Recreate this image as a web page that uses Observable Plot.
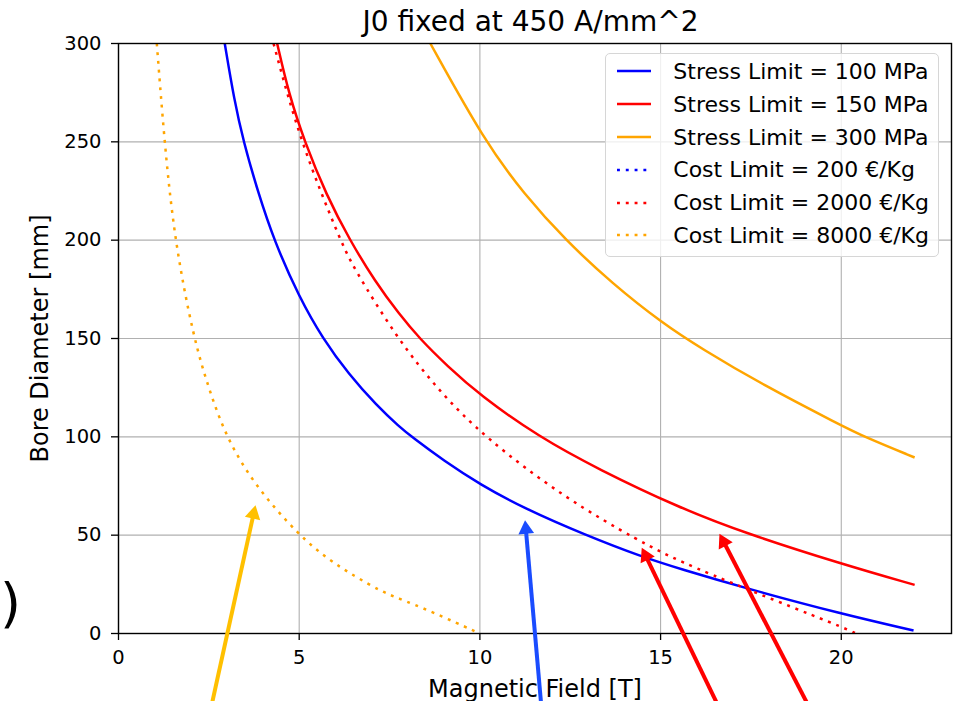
<!DOCTYPE html>
<html>
<head>
<meta charset="utf-8">
<script src="https://cdn.jsdelivr.net/npm/d3@7"></script>
<script src="https://cdn.jsdelivr.net/npm/@observablehq/plot@0.6"></script>
<style>
  html, body { margin: 0; padding: 0; background: white; overflow: hidden; width: 962px; height: 701px; }
  body { position: relative; font-family: "DejaVu Sans", sans-serif; color: black; }
  #title { position: relative; z-index: 2; height: 28px; }
  #title span { position: absolute; left: 114px; width: 833px; top: 8px; text-align: center;
    font-size: 28px; line-height: 28px; white-space: nowrap; }
  #chart { position: relative; z-index: 1; height: 673px; }
  #chart svg g[aria-label="x-axis tick label"], #chart svg g[aria-label="y-axis tick label"] { font-size: 19.5px; }
  #chart svg g[aria-label="x-axis label"], #chart svg g[aria-label="y-axis label"] { font-size: 24px; }
  #chart svg g[aria-label="annotation arrow"] { filter: drop-shadow(3px 3px 3px rgba(0,0,0,0.35)); }
  #legend { position: absolute; z-index: 3; left: 605px; top: 53.3px; width: 334px; height: 203.4px; box-sizing: border-box;
    border: 1px solid #d6d6d6; border-radius: 5px; background: rgba(255,255,255,0.8); padding-top: 0.8px; }
  .lrow { display: flex; align-items: center; height: 32.8px; }
  .lrow svg { margin-left: 11px; flex: none; }
  .lrow span { margin-left: 22.3px; font-size: 22px; white-space: nowrap; }
  #paren { position: absolute; z-index: 3; left: 0px; top: 577px; font-size: 54px; line-height: 54px; }
</style>
</head>
<body>
<div id="title"><span>J0 fixed at 450 A/mm^2</span></div>
<div id="chart"></div>
<div id="legend"></div>
<div id="paren">)</div>
<script>
// ---------- data ----------
const xTicks = [0, 5, 10, 15, 20];
const yTicks = [0, 50, 100, 150, 200, 250, 300];
const xDomain = [0, 23.05];
const yDomain = [0, 300];

// [Magnetic Field (T), Bore Diameter (mm)]
const stress100 = [[2.94,300],[3.2,271.4],[3.46,250],[3.85,225],[4.31,199.5],[5.0,171],[5.65,150],[6.37,131.8],[7.15,115.8],[7.76,105.3],[8.14,99.6],[9.0,87.9],[10,75.8],[11.27,63.2],[12.93,50],[14.45,39.2],[15.51,33],[17.45,22.5],[20,10],[22,1.5]];
const stress150 = [[4.39,300],[4.71,274.6],[5.15,250],[5.75,223],[6.4,200],[7.1,179],[7.76,162.5],[8.33,150],[9.1,136],[10,121.2],[11.63,100],[13.28,83.5],[15.51,64],[17.34,51],[20,35.4],[22.03,24.7]];
const stress300 = [[8.63,300],[10.14,250],[11.22,223.5],[12.37,200],[13.66,178],[15.05,157.8],[16.12,145],[17.82,126.5],[20,105.8],[20.64,100],[22.03,89.5]];
const cost200 = [];
const cost2000 = [[4.29,300],[5.03,250],[6.14,200],[6.46,187.3],[7.71,150],[8.86,123.5],[10.11,100],[12.37,68.6],[14.45,46.6],[15.51,36.8],[17.36,22.7],[20,3.5],[20.41,0]];
const cost8000 = [[1.06,300],[1.27,250],[1.55,200],[2.08,150],[2.49,125],[2.97,100],[3.78,75],[4.99,50],[5.79,37.8],[6.52,29.3],[7.29,21.2],[7.71,18.2],[8.68,11],[10,0]];

const seriesNames = ["Stress Limit = 100 MPa", "Stress Limit = 150 MPa", "Stress Limit = 300 MPa",
                     "Cost Limit = 200 €/Kg", "Cost Limit = 2000 €/Kg", "Cost Limit = 8000 €/Kg"];
const seriesColors = ["blue", "red", "orange", "blue", "red", "orange"];
const seriesDotted = [false, false, false, true, true, true];
const seriesPoints = [stress100, stress150, stress300, cost200, cost2000, cost8000];

// annotation arrows (tail -> tip), data units
const arrowTailX = [2.57, 11.70, 16.60, 19.10];
const arrowTailY = [-37, -37, -37, -37];
const arrowTipX = [3.79, 11.25, 14.48, 16.63];
const arrowTipY = [65.2, 57.6, 43.6, 50.7];
const arrowColors = ["#ffc000", "#1a4cff", "#ff0000", "#ff0000"];

// ---------- layout ----------
const W = 962, H = 673, mt = 15, mr = 11, mb = 68, ml = 118;
const DOTS = "2.9,5.9";

const sx = Plot.scale({x: {domain: xDomain, range: [ml, W - mr]}});
const sy = Plot.scale({y: {domain: yDomain, range: [H - mb, mt]}});
const headBack = 9;
const arrows = arrowTipX.map((tx, i) => {
  const px1 = sx.apply(arrowTailX[i]), py1 = sy.apply(arrowTailY[i]);
  const px2 = sx.apply(tx), py2 = sy.apply(arrowTipY[i]);
  const L = Math.hypot(px2 - px1, py2 - py1);
  const ux = (px2 - px1) / L, uy = (py2 - py1) / L;
  return {
    x1: arrowTailX[i], y1: arrowTailY[i],
    hx: sx.invert(px2 - ux * headBack), hy: sy.invert(py2 - uy * headBack),
    angle: Math.atan2(ux, -uy) * 180 / Math.PI,
    color: arrowColors[i]
  };
});

const gridStyle = {stroke: "#b0b0b0", strokeOpacity: 1, strokeWidth: 1.1};

const plot = Plot.plot({
  width: W, height: H,
  marginTop: mt, marginRight: mr, marginBottom: mb, marginLeft: ml,
  style: {fontFamily: "DejaVu Sans, sans-serif", color: "black", background: "transparent"},
  x: {domain: xDomain},
  y: {domain: yDomain},
  marks: [
    Plot.gridX(xTicks, gridStyle),
    Plot.gridY(yTicks, gridStyle),
    ...seriesPoints.map((pts, i) => Plot.line(pts, {
      x: d => d[0], y: d => d[1],
      stroke: seriesColors[i], strokeWidth: 2.5,
      strokeDasharray: seriesDotted[i] ? DOTS : null,
      strokeLinecap: "butt",
      curve: "basis"
    })),
    Plot.frame({stroke: "black", strokeWidth: 1.4}),
    Plot.axisX(xTicks, {tickSize: 7, tickPadding: 10, strokeWidth: 1.3,
      label: "Magnetic Field [T]", labelAnchor: "center", labelOffset: 63, labelArrow: "none"}),
    Plot.axisY(yTicks, {tickSize: 7, tickPadding: 10, strokeWidth: 1.3,
      label: "Bore Diameter [mm]", labelAnchor: "center", labelOffset: 88, labelArrow: "none"}),
    Plot.link(arrows, {x1: "x1", y1: "y1", x2: "hx", y2: "hy", stroke: "color", strokeWidth: 4,
      strokeLinecap: "butt", ariaLabel: "annotation arrow"}),
    Plot.dot(arrows, {x: "hx", y: "hy", symbol: "triangle2", r: 7.5, fill: "color", stroke: "none",
      rotate: "angle", ariaLabel: "annotation arrow"})
  ]
});
document.getElementById("chart").appendChild(plot);

// ---------- legend ----------
const legend = document.getElementById("legend");
seriesNames.forEach((name, i) => {
  const row = document.createElement("div");
  row.className = "lrow";
  const dash = seriesDotted[i] ? ` stroke-dasharray="${DOTS}"` : "";
  row.innerHTML = `<svg width="34" height="10"><line x1="0" y1="5" x2="34" y2="5" stroke="${seriesColors[i]}" stroke-width="2.5"${dash}/></svg><span>${name}</span>`;
  legend.appendChild(row);
});
</script>
</body>
</html>
